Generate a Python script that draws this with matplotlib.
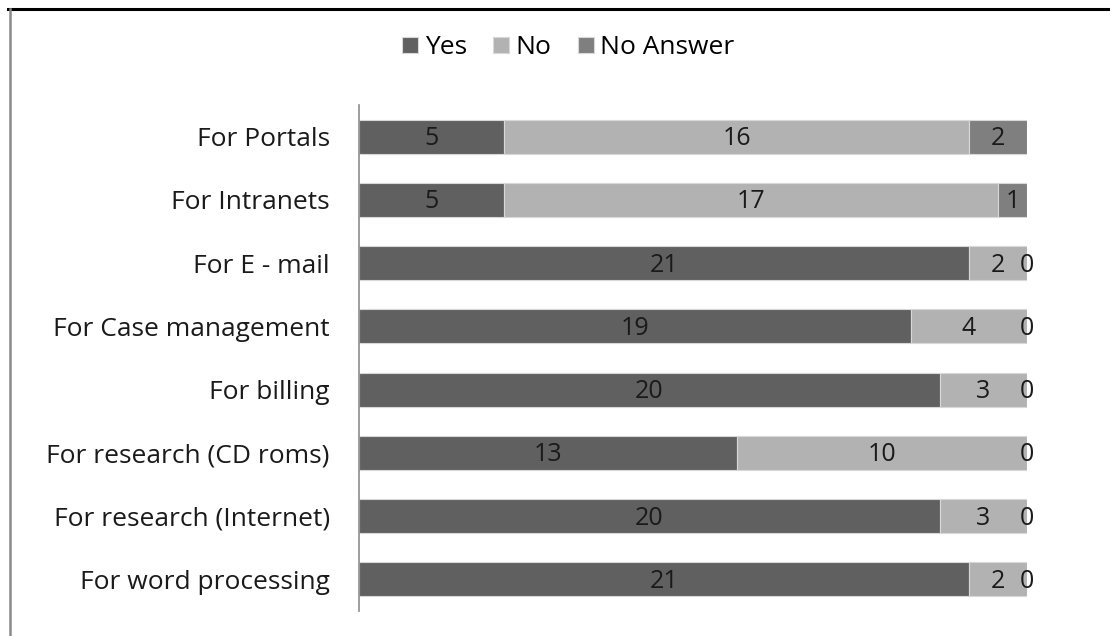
import numpy as np
import matplotlib.pyplot as plt
from matplotlib.lines import Line2D

# survey answers per use, listed top to bottom
categories = ["For Portals", "For Intranets", "For E - mail", "For Case management",
              "For billing", "For research (CD roms)", "For research (Internet)",
              "For word processing"]
yes_vals = [5, 5, 21, 19, 20, 13, 20, 21]
no_vals = [16, 17, 2, 4, 3, 10, 3, 2]
na_vals = [2, 1, 0, 0, 0, 0, 0, 0]

series = [("Yes", yes_vals, "#606060"),
          ("No", no_vals, "#b2b2b2"),
          ("No Answer", na_vals, "#7f7f7f")]

plt.rcParams['font.family'] = ['Open Sans', 'DejaVu Sans']

fig = plt.figure(figsize=(11.10, 6.36), dpi=100)
ax = fig.add_axes([0.3234, 0.0393, 0.6018, 0.7956])

y = np.arange(len(categories))
left = np.zeros(len(categories))
for name, vals, col in series:
    vals = np.array(vals, dtype=float)
    ax.barh(y, vals, left=left, height=0.54, color=col,
            edgecolor="#d8d8d8", linewidth=0.8, label=name)
    for yi, l, v in zip(y, left, vals):
        ax.text(l + v / 2, yi + 0.03, f"{int(v)}", ha="center", va="center",
                fontsize=18, color="#1a1a1a")
    left = left + vals

ax.set_xlim(0, 23)
ax.set_ylim(len(categories) - 0.5, -0.5)
ax.set_yticks(y)
ax.set_yticklabels(categories, fontsize=19, color="#1a1a1a")
ax.tick_params(axis="y", length=0, pad=21)
ax.set_xticks([])
for s in ["top", "right", "bottom"]:
    ax.spines[s].set_visible(False)
ax.spines["left"].set_color("#8c8c8c")
ax.spines["left"].set_linewidth(1.2)

fig.legend(loc="upper center", bbox_to_anchor=(0.512, 0.982), ncol=3,
           frameon=False, fontsize=19, handlelength=0.6, handleheight=0.6,
           handletextpad=0.25, columnspacing=1.0)

# outer frame: black top edge and grey left edge
fig.add_artist(Line2D([8 / 1110, 1], [1 - 9 / 636, 1 - 9 / 636],
                      color="black", linewidth=2.2, transform=fig.transFigure))
fig.add_artist(Line2D([9.5 / 1110, 9.5 / 1110], [0, 1 - 9 / 636],
                      color="#8a8a8a", linewidth=1.8, transform=fig.transFigure))

fig.savefig("out.png", dpi=100, facecolor="white")
